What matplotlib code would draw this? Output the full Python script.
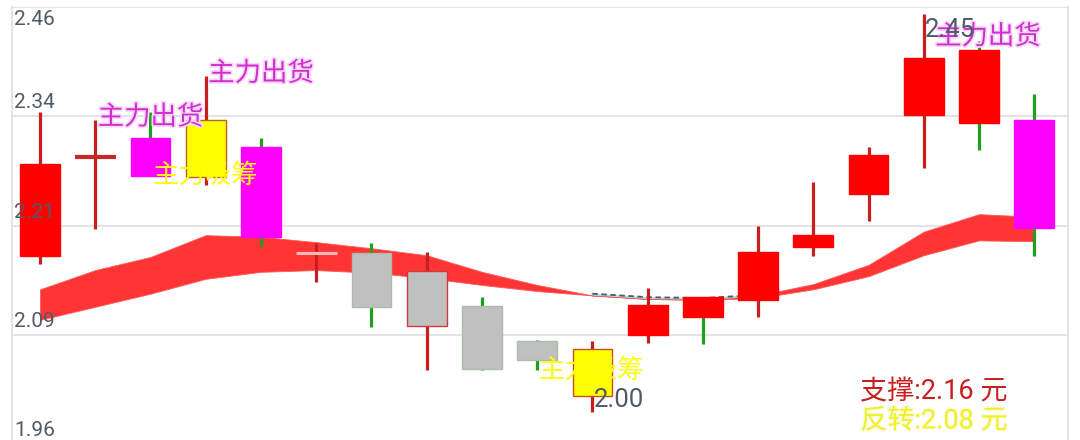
import matplotlib
matplotlib.use('Agg')
import matplotlib.pyplot as plt
import matplotlib.patheffects as pe
from matplotlib.patches import Rectangle
import numpy as np

# daily candles, oldest first
opens  = [2.175, 2.288, 2.310, 2.266, 2.300, 2.179, 2.179, 2.095, 2.118, 2.078,
          2.015, 2.085, 2.128, 2.125, 2.185, 2.246, 2.336, 2.411, 2.331]
closes = [2.280, 2.288, 2.267, 2.331, 2.197, 2.179, 2.117, 2.158, 2.046, 2.056,
          2.069, 2.119, 2.105, 2.180, 2.199, 2.291, 2.402, 2.327, 2.207]
highs  = [2.340, 2.331, 2.340, 2.381, 2.310, 2.190, 2.190, 2.180, 2.128, 2.079,
          2.078, 2.138, 2.128, 2.209, 2.260, 2.300, 2.452, 2.421, 2.360]
lows   = [2.166, 2.206, 2.267, 2.256, 2.187, 2.145, 2.094, 2.045, 2.045, 2.045,
          1.997, 2.076, 2.074, 2.105, 2.175, 2.215, 2.276, 2.296, 2.175]

# the two moving averages that make the red ribbon
band_hi = [2.137, 2.159, 2.174, 2.199, 2.197, 2.191, 2.184, 2.176, 2.157, 2.142,
           2.130, 2.126, 2.125, 2.130, 2.143, 2.165, 2.203, 2.223, 2.220]
band_lo = [2.102, 2.117, 2.132, 2.149, 2.157, 2.159, 2.156, 2.150, 2.142, 2.135,
           2.130, 2.126, 2.125, 2.127, 2.137, 2.152, 2.176, 2.193, 2.192]

sell_idx = [2, 4, 18]      # 主力出货
buy_idx = [3, 10]          # 主力吸筹
support = 2.16
reversal = 2.08

y_ticks = [2.46, 2.335, 2.21, 2.085, 1.96]
y_tick_labels = ['2.46', '2.34', '2.21', '2.09', '1.96']

# ---- styles ----
body_colors = ['#ff0000', '#c62828', '#ff00ff', '#ffff00', '#ff00ff', '#f2b8b8',
               '#c0c0c0', '#c0c0c0', '#c0c0c0', '#c0c0c0', '#ffff00', '#ff0000',
               '#ff0000', '#ff0000', '#ff0000', '#ff0000', '#ff0000', '#ff0000', '#ff00ff']
edge_colors = ['#ff0000', '#c62828', '#ff00ff', '#b5651d', '#ff00ff', '#f2b8b8',
               '#a9bda9', '#d03a3a', '#a9bda9', '#a9bda9', '#c8501e', '#ff0000',
               '#ff0000', '#ff0000', '#ff0000', '#ff0000', '#ff0000', '#ff0000', '#ff00ff']
sell_pos = [(2.0, 2.334), (4.0, 2.384), (17.16, 2.426)]
buy_pos = [(3.0, 2.267), (9.98, 2.045)]
cjk = ['Noto Sans CJK SC', 'DejaVu Sans']
num_font = ['Roboto', 'Noto Sans CJK SC']

fig = plt.figure(figsize=(10.8, 4.4), dpi=100)
fig.patch.set_facecolor('white')
ax = fig.add_axes([12 / 1080, 0, 1056 / 1080, 433 / 440])
ax.set_xlim(-0.507, 18.61)
ax.set_ylim(2.46 - 433 / 874, 2.46)

for y in y_ticks:
    ax.axhline(y, color='#e4e4e4', lw=1.5, zorder=0)
for s in ['top', 'bottom']:
    ax.spines[s].set_visible(False)
for s in ['left', 'right']:
    ax.spines[s].set_color('#e4e4e4')
    ax.spines[s].set_linewidth(1.5)
ax.set_xticks([])
ax.set_yticks([])

x = np.arange(len(opens))
hi = np.array(band_hi)
lo = np.array(band_lo)
ax.fill_between(x, hi, lo, color='#ff3535', lw=0.6, edgecolor='#ff5a5a', zorder=1)
mid = (hi + lo) / 2
ax.plot(x[10:14], mid[10:14] + 0.001, color='#9fd8e6', lw=1.2, zorder=1)
ax.plot(x[10:14], mid[10:14] + 0.002, color='#4e5a66', lw=1.3,
        ls=(0, (3, 2)), zorder=1)

w = 0.72
for i in range(len(opens)):
    o, c, h, l = opens[i], closes[i], highs[i], lows[i]
    wick = '#c81e1e' if c >= o else '#1ea01e'
    ax.plot([i, i], [l, h], color=wick, lw=2.3, zorder=2, solid_capstyle='butt')
    if abs(c - o) < 1e-9:
        ax.plot([i - 0.37, i + 0.37], [o, o], color=body_colors[i],
                lw=3 if i == 1 else 2.2, zorder=3, solid_capstyle='butt')
    else:
        ax.add_patch(Rectangle((i - w / 2, min(o, c)), w, abs(c - o),
                               facecolor=body_colors[i], edgecolor=edge_colors[i],
                               lw=1.0, zorder=3))

# yellow labels: same colour as the yellow bodies, so they vanish over them
for (px, py) in buy_pos:
    ax.text(px, py, '主力吸筹', color='#fcfc10', fontsize=19, family=cjk,
            ha='center', va='center', zorder=5)
for (px, py) in sell_pos:
    ax.text(px, py, '主力出货', color='#d12ed1', fontsize=19, family=cjk,
            ha='center', va='center', zorder=5,
            path_effects=[pe.withStroke(linewidth=2.5, foreground='#f8d8f8')])

# y labels inside the plot
for i, (yv, lbl) in enumerate(zip(y_ticks, y_tick_labels)):
    if i == 0:
        ax.annotate(lbl, xy=(0, yv), xycoords=('axes fraction', 'data'),
                    xytext=(2, -3), textcoords='offset pixels', va='top', ha='left',
                    fontsize=15, family=num_font, color='#4f5b66', zorder=6)
    else:
        ax.annotate(lbl, xy=(0, yv), xycoords=('axes fraction', 'data'),
                    xytext=(2, 4), textcoords='offset pixels', va='bottom', ha='left',
                    fontsize=15, family=num_font, color='#4f5b66', zorder=6)

imax = int(np.argmax(highs))
imin = int(np.argmin(lows))
ax.annotate(f'{highs[imax]:.2f}', xy=(imax, highs[imax]), xytext=(1, -4),
            textcoords='offset pixels', ha='left', va='top', fontsize=18.5,
            family=num_font, color='#4f5b66', zorder=6)
ax.annotate(f'{lows[imin]:.2f}', xy=(imin, lows[imin]), xytext=(1, 0),
            textcoords='offset pixels', ha='left', va='bottom', fontsize=18.5,
            family=num_font, color='#4f5b66', zorder=6)

ax.text(0.943, 0.111, f'支撑:{support:.2f} 元', transform=ax.transAxes,
        ha='right', va='center', fontsize=19.5, family=num_font, color='#c81e1e')
ax.text(0.943, 0.044, f'反转:{reversal:.2f} 元', transform=ax.transAxes,
        ha='right', va='center', fontsize=19.5, family=num_font, color='#f0f028',
        path_effects=[pe.withStroke(linewidth=2, foreground='#fbfbd8')])

fig.savefig('out.png', dpi=100, facecolor='white')
